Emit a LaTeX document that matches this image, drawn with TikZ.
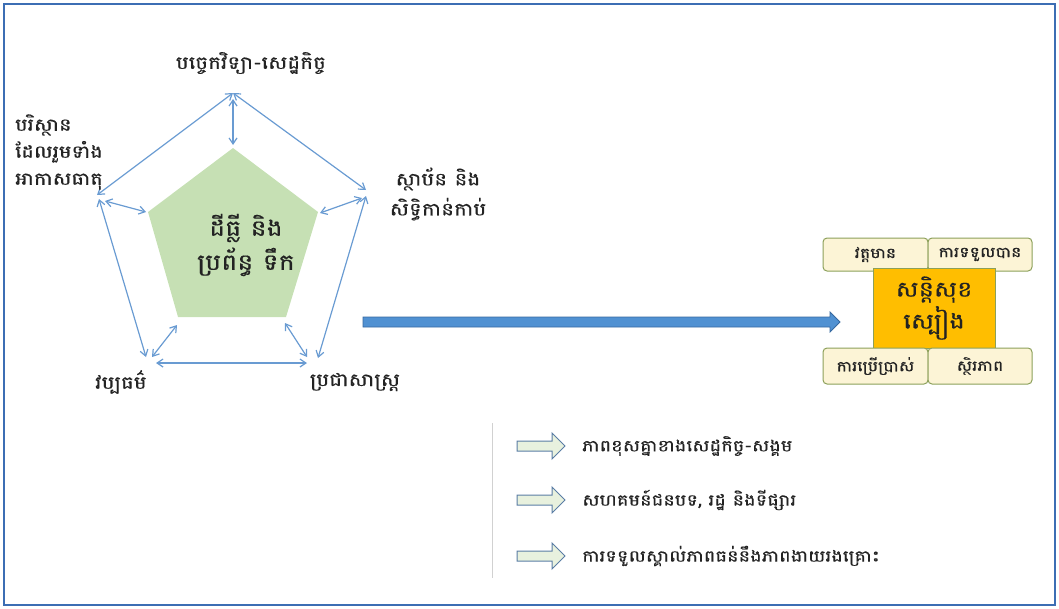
\documentclass[tikz,border=0pt]{standalone}
\usepackage{fontspec}
\newfontfamily\kh[Script=Khmer,FakeStretch=1.2,FakeBold=0.5]{Battambang}
\usetikzlibrary{arrows.meta}
\definecolor{frameblue}{RGB}{60,110,180}
\definecolor{linkblue}{RGB}{105,155,210}
\definecolor{pentgreen}{RGB}{198,224,180}
\definecolor{bigblue}{RGB}{80,145,210}
\definecolor{bigblueedge}{RGB}{55,105,160}
\definecolor{cream}{RGB}{252,244,214}
\definecolor{olive}{RGB}{140,160,90}
\definecolor{orangebox}{RGB}{255,190,0}
\definecolor{hollowfill}{RGB}{232,241,222}
\definecolor{hollowedge}{RGB}{90,125,165}
\definecolor{txt}{RGB}{35,35,35}
\tikzset{
  link/.style={draw=linkblue, line width=1.2pt, {Straight Barb[length=6pt,width=8pt]}-{Straight Barb[length=6pt,width=8pt]}},
  lbl/.style={font=\kh\fontsize{18}{28}\selectfont, text=txt, align=center, inner sep=0pt},
  cbox/.style={draw=olive, fill=cream, rounded corners=4pt, line width=1pt, font=\kh\fontsize{14.5}{16}\selectfont, text=txt, inner sep=0pt},
  hollow/.pic={\draw[draw=hollowedge, fill=hollowfill, line width=1pt] (0,-5) -- (35,-5) -- (35,-13) -- (48,0) -- (35,13) -- (35,5) -- (0,5) -- cycle;},
}
\begin{document}
\begin{tikzpicture}[x=1pt,y=-1pt]
\useasboundingbox (0,0) rectangle (1059,608);
\draw[frameblue, line width=2pt] (4,4) rectangle (1055,605);

% inner pentagon
\coordinate (pT) at (233,148);
\coordinate (pL) at (148,212);
\coordinate (pR) at (318,212);
\coordinate (pBL) at (178,317);
\coordinate (pBR) at (286,317);
\fill[pentgreen] (pT) -- (pR) -- (pBR) -- (pBL) -- (pL) -- cycle;
\node[lbl, font=\kh\fontsize{22.5}{34}\selectfont] (center) at (246,245) {ដីធ្លី និង\\ប្រព័ន្ធ ទឹក};

% outer points
\coordinate (oT) at (233,93);
\coordinate (oL) at (97,195);
\coordinate (oR) at (366,190);

% ring
\draw[link] (oT) -- (oL);
\draw[link] (oT) -- (oR);
\coordinate (oL2) at (99,199);
\coordinate (oBL2) at (146,357);
\draw[link] (oL2) -- (oBL2);
\coordinate (oR2) at (366,196);
\coordinate (oBR2) at (318,358);
\draw[link] (oR2) -- (oBR2);
\coordinate (oBL3) at (156,363);
\coordinate (oBR3) at (307,363);
\draw[link] (oBL3) -- (oBR3);

% spokes
\coordinate (sT1) at (233,99);
\coordinate (sT2) at (233,145);
\draw[link] (sT1) -- (sT2);
\coordinate (sL1) at (105,201);
\coordinate (sL2) at (146,212);
\draw[link] (sL1) -- (sL2);
\coordinate (sR1) at (320,213);
\coordinate (sR2) at (362,198);
\draw[link] (sR1) -- (sR2);
\coordinate (sBL1) at (152,357);
\coordinate (sBL2) at (177,325);
\draw[link] (sBL1) -- (sBL2);
\coordinate (sBR1) at (285,323);
\coordinate (sBR2) at (307,357);
\draw[link] (sBR1) -- (sBR2);

% labels
\node[lbl] (ltop) at (251,63) {បច្ចេកវិទ្យា-សេដ្ឋកិច្ច};
\node[lbl, align=left, anchor=west, font=\kh\fontsize{17.5}{27}\selectfont] (lleft) at (15,152) {បរិស្ថាន\\ដែលរួមទាំង\\អាកាសធាតុ};
\node[lbl, font=\kh\fontsize{18}{30}\selectfont] (lright) at (438,194) {ស្ថាប័ន និង\\សិទ្ធិកាន់កាប់};
\node[lbl] (lbl) at (121,382) {វប្បធម៌};
\node[lbl] (lbr) at (355,382) {ប្រជាសាស្ត្រ};

% big arrow
\coordinate (aS) at (363,322);
\coordinate (aE) at (840,322);
\draw[bigblueedge, fill=bigblue, line width=0.8pt]
  ([yshift=-5]aS) -- ([xshift=-10,yshift=-5]aE) -- ([xshift=-10,yshift=-10]aE) -- (aE)
  -- ([xshift=-10,yshift=10]aE) -- ([xshift=-10,yshift=5]aE) -- ([yshift=5]aS) -- cycle;

% right group
\node[cbox, minimum width=105pt, minimum height=33pt] (b1) at (875.5,254.5) {វត្តមាន};
\node[cbox, minimum width=104pt, minimum height=33pt] (b2) at (980,254.5) {ការទទួលបាន};
\node[draw=olive, fill=orangebox, line width=0.8pt, minimum width=122pt, minimum height=80pt, inner sep=0pt,
      font=\kh\fontsize{21.5}{32}\selectfont, text=txt, align=center] (food) at (934,308) {សន្តិសុខ\\ស្បៀង};
\node[cbox, minimum width=105pt, minimum height=36pt] (b3) at (875.5,366) {ការប្រើប្រាស់};
\node[cbox, minimum width=104pt, minimum height=36pt] (b4) at (980,366) {ស្ថិរភាព};

% bottom list
\coordinate (g1) at (492,423);
\coordinate (g2) at (492,578);
\draw[black!18, line width=1pt] (g1) -- (g2);
\pic at (517,446) {hollow};
\pic at (517,500) {hollow};
\pic at (517,556) {hollow};
\node[lbl, anchor=west, font=\kh\fontsize{16.2}{18}\selectfont] (t1) at (582,446) {ភាពខុសគ្នាខាងសេដ្ឋកិច្ច-សង្គម};
\node[lbl, anchor=west, font=\kh\fontsize{16.2}{18}\selectfont] (t2) at (582,500) {សហគមន៍ជនបទ, រដ្ឋ និងទីផ្សារ};
\node[lbl, anchor=west, font=\kh\fontsize{16.2}{18}\selectfont] (t3) at (582,556) {ការទទួលស្គាល់ភាពធន់នឹងភាពងាយរងគ្រោះ};
\end{tikzpicture}
\end{document}
